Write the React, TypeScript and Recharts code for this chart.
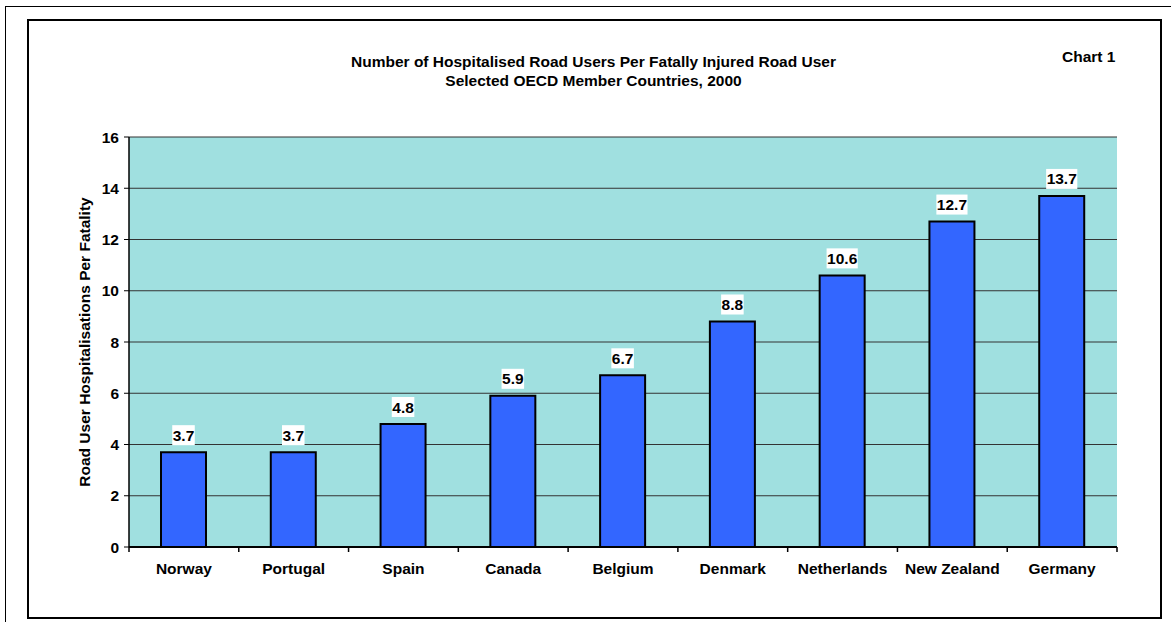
import React from "react";
import {
  BarChart, Bar, XAxis, YAxis, CartesianGrid, LabelList,
} from "recharts";

const countries = [
  "Norway", "Portugal", "Spain", "Canada", "Belgium",
  "Denmark", "Netherlands", "New Zealand", "Germany",
];
const ratios = [3.7, 3.7, 4.8, 5.9, 6.7, 8.8, 10.6, 12.7, 13.7];
const yTicks = [0, 2, 4, 6, 8, 10, 12, 14, 16];

const FONT = "Arial, 'Liberation Sans', Helvetica, sans-serif";
const FS = 15.5;
const X_TICK_SIZE = 6;
const X_TICK_MARGIN = 10;

const data = countries.map((c, i) => ({ country: c, value: ratios[i] }));

// white box behind each value, like the old Excel data labels
function ValueLabel(props: any) {
  const { x, y, width, value } = props;
  const txt = Number(value).toFixed(1);
  const digits = txt.replace(".", "").length;
  const w = (digits * 0.556 + 0.278) * FS + 1;
  const cx = x + width / 2;
  return (
    <g>
      <rect x={cx - w / 2} y={y - 27} width={w} height={20} fill="#fff" />
      <text
        x={cx}
        y={y - 17}
        textAnchor="middle"
        dominantBaseline="central"
        fontFamily={FONT}
        fontWeight="bold"
        fontSize={FS}
        fill="#000"
      >
        {txt}
      </text>
    </g>
  );
}

// category label + tick marks on the category boundaries (Excel style)
function CountryTick(props: any) {
  const { x, y, payload, index } = props;
  const half = payload && payload.offset ? payload.offset : 0;
  const axisY = y - X_TICK_SIZE - X_TICK_MARGIN;
  const last = index === countries.length - 1;
  return (
    <g>
      {half > 0 && (
        <line x1={x - half} x2={x - half} y1={axisY} y2={axisY + 5} stroke="#000" strokeWidth={1.5} />
      )}
      {half > 0 && last && (
        <line x1={x + half} x2={x + half} y1={axisY} y2={axisY + 5} stroke="#000" strokeWidth={1.5} />
      )}
      <text
        x={x}
        y={y}
        dy="0.71em"
        textAnchor="middle"
        fontFamily={FONT}
        fontWeight="bold"
        fontSize={FS}
        fill="#000"
      >
        {payload.value}
      </text>
    </g>
  );
}

function YTitle(props: any) {
  const { viewBox } = props;
  const cx = viewBox.x + 5;
  const cy = viewBox.y + viewBox.height / 2;
  return (
    <text
      x={cx}
      y={cy}
      transform={`rotate(-90, ${cx}, ${cy})`}
      textAnchor="middle"
      dominantBaseline="central"
      fontFamily={FONT}
      fontWeight="bold"
      fontSize={FS}
      fill="#000"
    >
      Road User Hospitalisations Per Fatality
    </text>
  );
}

export default function App() {
  return (
    <div
      style={{
        position: "absolute",
        left: 0,
        top: 0,
        width: 1171,
        height: 622,
        background: "#fff",
        fontFamily: FONT,
        overflow: "hidden",
      }}
    >
      {/* page frame lines */}
      <div style={{ position: "absolute", left: 5, top: 6, width: 1166, height: 1, background: "#000" }} />
      <div style={{ position: "absolute", left: 5, top: 6, width: 1, height: 616, background: "#000" }} />
      {/* chart frame */}
      <div
        style={{
          position: "absolute",
          left: 27,
          top: 19,
          width: 1131,
          height: 596,
          border: "2px solid #000",
        }}
      />
      <div
        style={{
          position: "absolute",
          left: 0,
          width: 1187,
          top: 52,
          textAlign: "center",
          fontWeight: "bold",
          fontSize: FS,
          lineHeight: "19px",
          color: "#000",
        }}
      >
        Number of Hospitalised Road Users Per Fatally Injured Road User
        <br />
        Selected OECD Member Countries, 2000
      </div>
      <div
        style={{
          position: "absolute",
          left: 1062,
          top: 48,
          fontWeight: "bold",
          fontSize: FS,
          color: "#000",
        }}
      >
        Chart 1
      </div>

      <div style={{ position: "absolute", left: 0, top: 0 }}>
        <BarChart
          width={1171}
          height={622}
          data={data}
          margin={{ top: 137, right: 54, bottom: 45, left: 79 }}
          barSize={45}
        >
          <CartesianGrid
            vertical={false}
            fill="#A0E0E0"
            fillOpacity={1}
            stroke="#333"
            strokeWidth={1}
          />
          <XAxis
            dataKey="country"
            height={30}
            axisLine={{ stroke: "#000", strokeWidth: 2 }}
            tickLine={false}
            tickSize={X_TICK_SIZE}
            tickMargin={X_TICK_MARGIN}
            interval={0}
            tick={<CountryTick />}
          />
          <YAxis
            domain={[0, 16]}
            ticks={yTicks}
            interval={0}
            width={50}
            axisLine={{ stroke: "#000", strokeWidth: 1.5 }}
            tickLine={{ stroke: "#000" }}
            tickSize={5}
            tickMargin={5}
            tick={{ fontFamily: FONT, fontWeight: "bold", fontSize: FS, fill: "#000" }}
            label={<YTitle />}
          />
          <YAxis
            yAxisId="right"
            orientation="right"
            domain={[0, 16]}
            width={0}
            tick={false}
            tickLine={false}
            axisLine={{ stroke: "#8a8a8a", strokeWidth: 2 }}
          />
          <Bar
            dataKey="value"
            fill="#3366FF"
            stroke="#000"
            strokeWidth={2}
            isAnimationActive={false}
          >
            <LabelList dataKey="value" content={<ValueLabel />} />
          </Bar>
        </BarChart>
      </div>
    </div>
  );
}
